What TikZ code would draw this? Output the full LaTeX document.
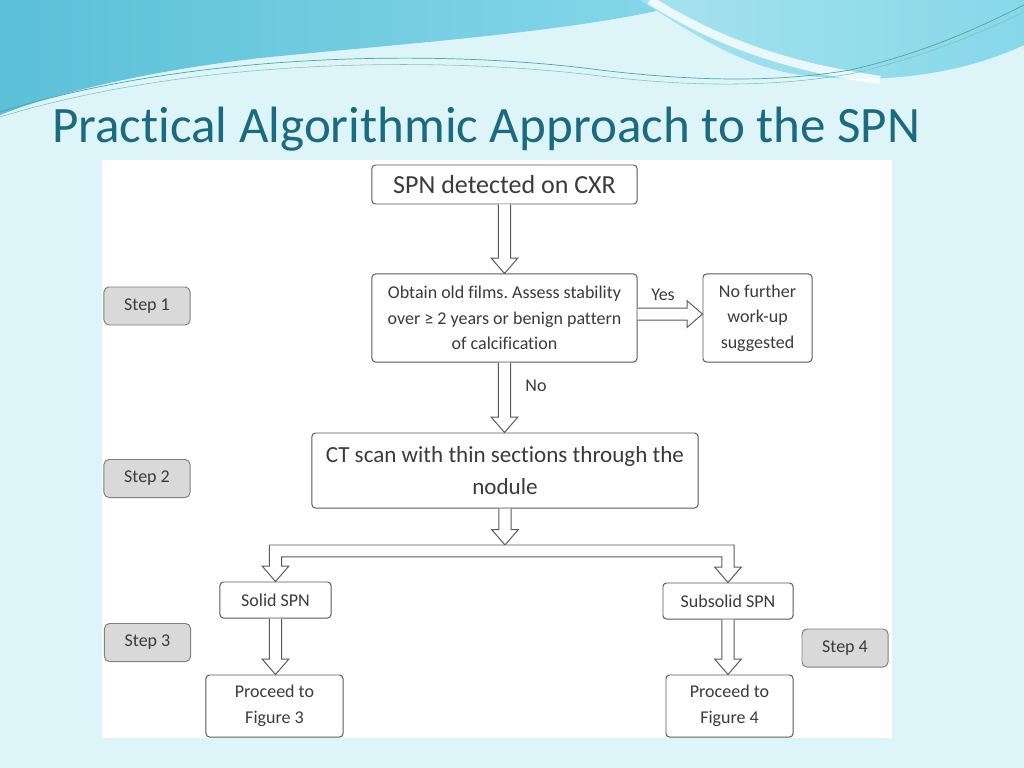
\documentclass[tikz,border=0pt]{standalone}
\usepackage{fontspec}
\setmainfont{Carlito}[Ligatures=NoCommon]
\usepackage{tikz}
\usetikzlibrary{calc, positioning}
\frenchspacing

\definecolor{slidebg}{HTML}{DDF5F9}
\definecolor{wavedark}{HTML}{5CC0D8}
\definecolor{wavemid}{HTML}{86D8E9}
\definecolor{wavelight}{HTML}{A6E2EE}
\definecolor{titleteal}{HTML}{1B6A80}
\definecolor{linegray}{HTML}{5A5A5A}
\definecolor{textgray}{HTML}{3B3B3B}
\definecolor{stepgray}{HTML}{D9D9D9}

\newcommand{\shafthalf}{4.3pt}
\newcommand{\headhalf}{9.5pt}
\newcommand{\headlen}{11pt}
\newcommand{\barthick}{8.5pt}

\begin{document}
\begin{tikzpicture}[x=0.025cm, y=-0.025cm, font=\fontsize{12.8}{18.1}\selectfont,
  box/.style={draw=linegray, rectangle, rounded corners=2.5pt, fill=white, text=textgray, align=center, inner sep=2pt, line width=0.7pt},
  stepbox/.style={box, draw=gray, fill=stepgray, rounded corners=3.5pt, minimum width=2.15cm, minimum height=0.95cm},
  big/.style={font=\fontsize{18.5}{22.8}\selectfont},
  lbl/.style={text=textgray},
  hollow/.style={draw=linegray, fill=white, line width=0.7pt, to path={
    let \p1=(\tikztostart), \p2=(\tikztotarget),
        \n1={atan2(\y2-\y1,\x2-\x1)}, \n2={veclen(\x2-\x1,\y2-\y1)-\headlen}, \n3={\n1+90} in
    ++(\n3:\shafthalf) -- ++(\n1:\n2) -- ($(\p2)+(\n1:-\headlen)+(\n3:\headhalf)$) -- (\p2)
    -- ($(\p2)+(\n1:-\headlen)+(\n3:-\headhalf)$) -- ($(\p1)+(\n1:\n2)+(\n3:-\shafthalf)$)
    -- ($(\p1)+(\n3:-\shafthalf)$)}}]
\useasboundingbox (0,0) rectangle (1024,768);

% slide background
\fill[slidebg] (0,0) rectangle (1024,768);
\shade[left color=wavedark, right color=wavemid] (0,0) -- (700,0) .. controls (600,30) and (420,42) .. (260,58) .. controls (140,72) and (50,95) .. (0,115) -- cycle;
\shade[left color=wavelight, right color=wavemid] (640,0) -- (1024,0) -- (1024,45) .. controls (960,75) and (880,85) .. (800,75) .. controls (740,66) and (690,32) .. (640,0) -- cycle;
\draw[white, opacity=0.8, line width=6pt] (650,0) .. controls (710,38) and (780,66) .. (880,80);
\draw[teal!70, line width=0.5pt] (0,112) .. controls (200,50) and (450,50) .. (600,70) .. controls (700,82) and (780,82) .. (850,70) .. controls (930,52) and (990,22) .. (1024,5);
\draw[teal!50, line width=0.4pt] (0,117) .. controls (200,56) and (450,57) .. (600,76) .. controls (700,88) and (780,86) .. (850,74) .. controls (930,56) and (990,28) .. (1024,12);

\node[anchor=base west, text=titleteal, font=\fontsize{36.3}{40}\selectfont, inner sep=0pt] (title) at (52,143) {Practical Algorithmic Approach to the SPN};

% white figure panel
\fill[white] (102,160) rectangle (892,738);

% flowchart boxes
\node[box, big, minimum width=6.625cm, minimum height=0.975cm] (spn) at (504.5,184.5) {SPN detected on CXR};
\node[box, minimum width=6.625cm, minimum height=2.2cm] (obtain) at (504.5,318) {Obtain old films. Assess stability\\over ≥ 2 years or benign pattern\\of calcification};
\node[box, minimum width=2.725cm, minimum height=2.2cm] (nofurther) at (757.5,318) {No further\\work-up\\suggested};
\node[box, font=\fontsize{16.4}{22.8}\selectfont, minimum width=9.65cm, minimum height=1.875cm] (ct) at (505,470.5) {CT scan with thin sections through the\\nodule};
\node[box, minimum width=2.775cm, minimum height=0.9cm] (solid) at (275.5,600) {Solid SPN};
\node[box, minimum width=3.25cm, minimum height=0.9cm] (subsolid) at (728,601) {Subsolid SPN};
\node[box, minimum width=3.425cm, minimum height=1.55cm] (proc3) at (274.5,706) {Proceed to\\Figure 3};
\node[box, minimum width=3.175cm, minimum height=1.55cm] (proc4) at (729.5,706) {Proceed to\\Figure 4};

% step labels
\node[stepbox] (step1) at (147,306) {Step 1};
\node[stepbox] (step2) at (147,478.5) {Step 2};
\node[stepbox] (step3) at (147.5,642.5) {Step 3};
\node[stepbox] (step4) at (845,648) {Step 4};

% hollow arrows
\draw[hollow] (spn.south) to (spn.south |- obtain.north);
\draw[hollow] ([yshift=2.8pt]obtain.east) to ([yshift=2.8pt]nofurther.west);
\node[lbl] (yes) at (663,295) {Yes};
\draw[hollow] (obtain.south) to (obtain.south |- ct.north);
\node[lbl] (no) at (536,386) {No};

% split bar into the two branches
\coordinate (bar) at (505,545);
\draw[hollow] (ct.south) to (bar);
\draw[draw=linegray, fill=white, line width=0.7pt] let \p1=(solid.north), \p2=(subsolid.north), \p3=(bar) in
  ({\x1-\shafthalf},\y3) -- ({\x2+\shafthalf},\y3) -- ({\x2+\shafthalf},{\y2+\headlen}) -- ({\x2+\headhalf},{\y2+\headlen})
  -- (\p2) -- ({\x2-\headhalf},{\y2+\headlen}) -- ({\x2-\shafthalf},{\y2+\headlen}) -- ({\x2-\shafthalf},{\y3-\barthick})
  -- ({\x1+\shafthalf},{\y3-\barthick}) -- ({\x1+\shafthalf},{\y1+\headlen}) -- ({\x1+\headhalf},{\y1+\headlen})
  -- (\p1) -- ({\x1-\headhalf},{\y1+\headlen}) -- ({\x1-\shafthalf},{\y1+\headlen}) -- cycle;

\draw[hollow] (solid.south) to (solid.south |- proc3.north);
\draw[hollow] (subsolid.south) to (subsolid.south |- proc4.north);
\end{tikzpicture}
\end{document}
